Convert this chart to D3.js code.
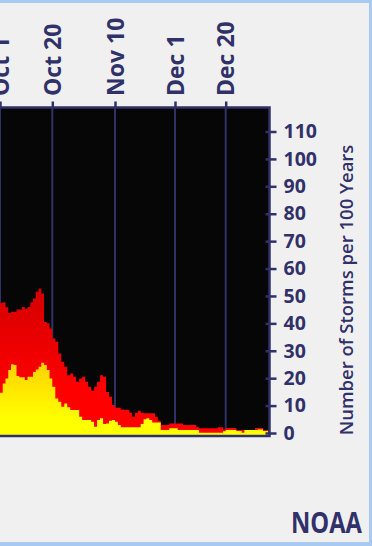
<!DOCTYPE html>
<html>
<head>
<meta charset="utf-8">
<script src="https://cdn.jsdelivr.net/npm/d3@7"></script>
<style>
    body { margin: 0; background: #f0f0f0; overflow: hidden; }
    svg { display: block; }
    text { font-family: "Open Sans", sans-serif; }
</style>
</head>
<body>
<div id="chart"></div>
<script>
// data (one value per day, starting Sep 30)
var startDate = "2001-09-30";
var tickDates = ["2001-10-01", "2001-10-20", "2001-11-10", "2001-12-01", "2001-12-20"];
var tickLabels = ["Oct 1", "Oct 20", "Nov 10", "Dec 1", "Dec 20"];
var yTicks = [0, 10, 20, 30, 40, 50, 60, 70, 80, 90, 100, 110];

// hurricanes + tropical storms (red)
var namedStorms = [47.4, 47.4, 47.7, 45.9, 43.8, 44.2, 44.2, 45.1, 45.1, 46.0,
    45.4, 46.0, 47.7, 49.1, 51.5, 52.7, 50.9, 40.5, 40.0, 38.1,
    34.5, 33.3, 29.0, 26.0, 24.2, 21.1, 21.7, 20.5, 18.7, 19.9,
    20.5, 18.7, 16.9, 15.4, 16.9, 18.7, 21.1, 20.5, 15.0, 13.2,
    10.2, 9.2, 9.2, 8.6, 8.5, 8.4, 7.4, 5.9, 7.4, 8.1,
    7.4, 7.2, 7.2, 7.2, 7.2, 5.9, 4.5, 2.9, 2.9, 2.9,
    3.5, 3.5, 3.5, 3.5, 3.5, 2.9, 2.9, 2.9, 2.9, 2.9,
    2.1, 1.7, 1.7, 1.7, 1.7, 1.7, 1.7, 1.7, 2.1, 2.1,
    1.3, 1.8, 1.8, 1.8, 1.8, 1.1, 1.1, 1.1, 1.1, 1.1,
    1.1, 1.1, 1.8, 1.8, 1.8, 1.1, 1.1, 0.1];

// hurricanes (yellow)
var hurricanes = [14.7, 14.7, 18.1, 19.9, 23.0, 25.1, 24.8, 20.8, 20.3, 20.3,
    19.3, 20.5, 20.5, 22.3, 23.2, 24.2, 25.6, 24.8, 23.0, 19.9,
    16.9, 12.6, 11.4, 9.6, 10.8, 9.4, 8.4, 8.4, 8.4, 5.9,
    4.7, 4.7, 4.7, 4.1, 2.3, 4.7, 5.4, 3.3, 3.5, 4.5,
    4.7, 4.1, 2.9, 2.1, 2.1, 2.1, 2.1, 2.1, 2.1, 2.1,
    3.3, 5.0, 5.4, 4.7, 3.8, 3.8, 3.8, 1.1, 1.1, 1.1,
    1.7, 1.7, 1.7, 1.1, 1.1, 1.1, 1.1, 1.1, 1.1, 1.1,
    1.1, 0.1, 0.1, 0.1, 0.1, 0.1, 0.1, 0.1, 0.1, 0.1,
    0.6, 1.1, 1.1, 1.1, 1.1, 0.7, 0.7, 0.1, 1.1, 1.1,
    1.1, 1.1, 1.1, 1.3, 1.3, 0.7, 0.7, 0.0];

var navy = "#31316a";
var W = 372, H = 546;
var plot = {left: -10, top: 107.5, right: 269.5, bottom: 436};

var parse = d3.timeParse("%Y-%m-%d");
var start = parse(startDate);

var svg = d3.select("#chart").append("svg")
    .attr("width", W)
    .attr("height", H);

// window frame strips
svg.append("rect").attr("x", 0).attr("y", 0).attr("width", W).attr("height", 3).attr("fill", "#a8caf0");
svg.append("rect").attr("x", 369).attr("y", 0).attr("width", 3).attr("height", H).attr("fill", "#a8caf0");
svg.append("rect").attr("x", 0).attr("y", 542).attr("width", W).attr("height", 4).attr("fill", "#a8caf0");

// the original's date axis is slightly uneven, so map each labelled date
var x = d3.scaleTime()
    .domain(tickDates.map(parse))
    .range([0, 52.3, 115, 175, 225.7]);

var y = d3.scaleLinear()
    .domain([0, 110])
    .range([433, 131.5]);

function toPoints(values) {
    var pts = values.map(function(v, i) {
        return {date: d3.timeDay.offset(start, i), value: v};
    });
    pts.push({date: d3.timeDay.offset(start, values.length), value: values[values.length - 1]});
    return pts;
}

var defs = svg.append("defs");

defs.append("clipPath").attr("id", "plot-clip")
    .append("rect")
    .attr("x", plot.left).attr("y", plot.top)
    .attr("width", plot.right - plot.left).attr("height", plot.bottom - plot.top);

var redGrad = defs.append("linearGradient").attr("id", "red-grad")
    .attr("gradientUnits", "userSpaceOnUse")
    .attr("x1", 0).attr("x2", 0).attr("y1", y(55)).attr("y2", y(0));
redGrad.append("stop").attr("offset", 0).attr("stop-color", "#d20000");
redGrad.append("stop").attr("offset", 0.72).attr("stop-color", "#ff0000");
redGrad.append("stop").attr("offset", 1).attr("stop-color", "#ff0000");

var yelGrad = defs.append("linearGradient").attr("id", "yel-grad")
    .attr("gradientUnits", "userSpaceOnUse")
    .attr("x1", 0).attr("x2", 0).attr("y1", y(26)).attr("y2", y(0));
yelGrad.append("stop").attr("offset", 0).attr("stop-color", "#ffd000");
yelGrad.append("stop").attr("offset", 0.8).attr("stop-color", "#ffff00");
yelGrad.append("stop").attr("offset", 1).attr("stop-color", "#ffff00");

// plot background
svg.append("rect")
    .attr("x", plot.left).attr("y", plot.top)
    .attr("width", plot.right - plot.left).attr("height", plot.bottom - plot.top)
    .attr("fill", "#060606");

var g = svg.append("g").attr("clip-path", "url(#plot-clip)");

// vertical grid lines
g.selectAll(".grid")
    .data(tickDates)
    .enter().append("line")
    .attr("class", "grid")
    .attr("x1", function(d) { return x(parse(d)); })
    .attr("x2", function(d) { return x(parse(d)); })
    .attr("y1", plot.top)
    .attr("y2", plot.bottom)
    .attr("stroke", navy)
    .attr("stroke-width", 2);

var area = d3.area()
    .curve(d3.curveStepAfter)
    .x(function(d) { return x(d.date); })
    .y0(plot.bottom)
    .y1(function(d) { return y(d.value); });

g.append("path")
    .datum(toPoints(namedStorms))
    .attr("fill", "url(#red-grad)")
    .attr("d", area);

g.append("path")
    .datum(toPoints(hurricanes))
    .attr("fill", "url(#yel-grad)")
    .attr("d", area);

// frame
svg.append("rect")
    .attr("x", plot.left).attr("y", plot.top)
    .attr("width", plot.right - plot.left).attr("height", plot.bottom - plot.top)
    .attr("fill", "none")
    .attr("stroke", navy)
    .attr("stroke-width", 2.5);

// top axis with rotated dates
var xAxis = svg.append("g")
    .attr("transform", "translate(0," + plot.top + ")")
    .call(d3.axisTop(x)
        .tickValues(tickDates.map(parse))
        .tickSize(6)
        .tickFormat(function(d, i) { return tickLabels[i]; }));
xAxis.select(".domain").remove();
xAxis.selectAll("line").attr("stroke", navy).attr("stroke-width", 2.5);
xAxis.selectAll("text")
    .attr("transform", "rotate(-90)")
    .attr("x", 11.5)
    .attr("y", 0)
    .attr("dy", "0.36em")
    .style("text-anchor", "start")
    .attr("fill", navy)
    .attr("font-size", "23px")
    .attr("font-weight", "bold")
    .attr("font-family", "Open Sans, sans-serif");

// right axis
var yAxis = svg.append("g")
    .attr("transform", "translate(" + plot.right + ",0)")
    .call(d3.axisRight(y)
        .tickValues(yTicks)
        .tickSize(7)
        .tickPadding(7));
yAxis.select(".domain").remove();
yAxis.selectAll("line").attr("x1", -4).attr("stroke", navy).attr("stroke-width", 2.5);
yAxis.selectAll("text")
    .attr("fill", navy)
    .attr("font-size", "19.5px")
    .attr("font-weight", "bold")
    .attr("font-family", "Open Sans, sans-serif");

svg.append("text")
    .attr("transform", "translate(346,290) rotate(-90)")
    .attr("text-anchor", "middle")
    .attr("dy", "0.36em")
    .attr("fill", navy)
    .attr("font-size", "18.5px")
    .attr("font-weight", 600)
    .text("Number of Storms per 100 Years");

svg.append("text")
    .attr("x", 362)
    .attr("y", 533.3)
    .attr("text-anchor", "end")
    .attr("fill", navy)
    .attr("font-size", "28.5px")
    .attr("font-weight", "bold")
    .attr("textLength", 71)
    .attr("lengthAdjust", "spacingAndGlyphs")
    .text("NOAA");
</script>
</body>
</html>
